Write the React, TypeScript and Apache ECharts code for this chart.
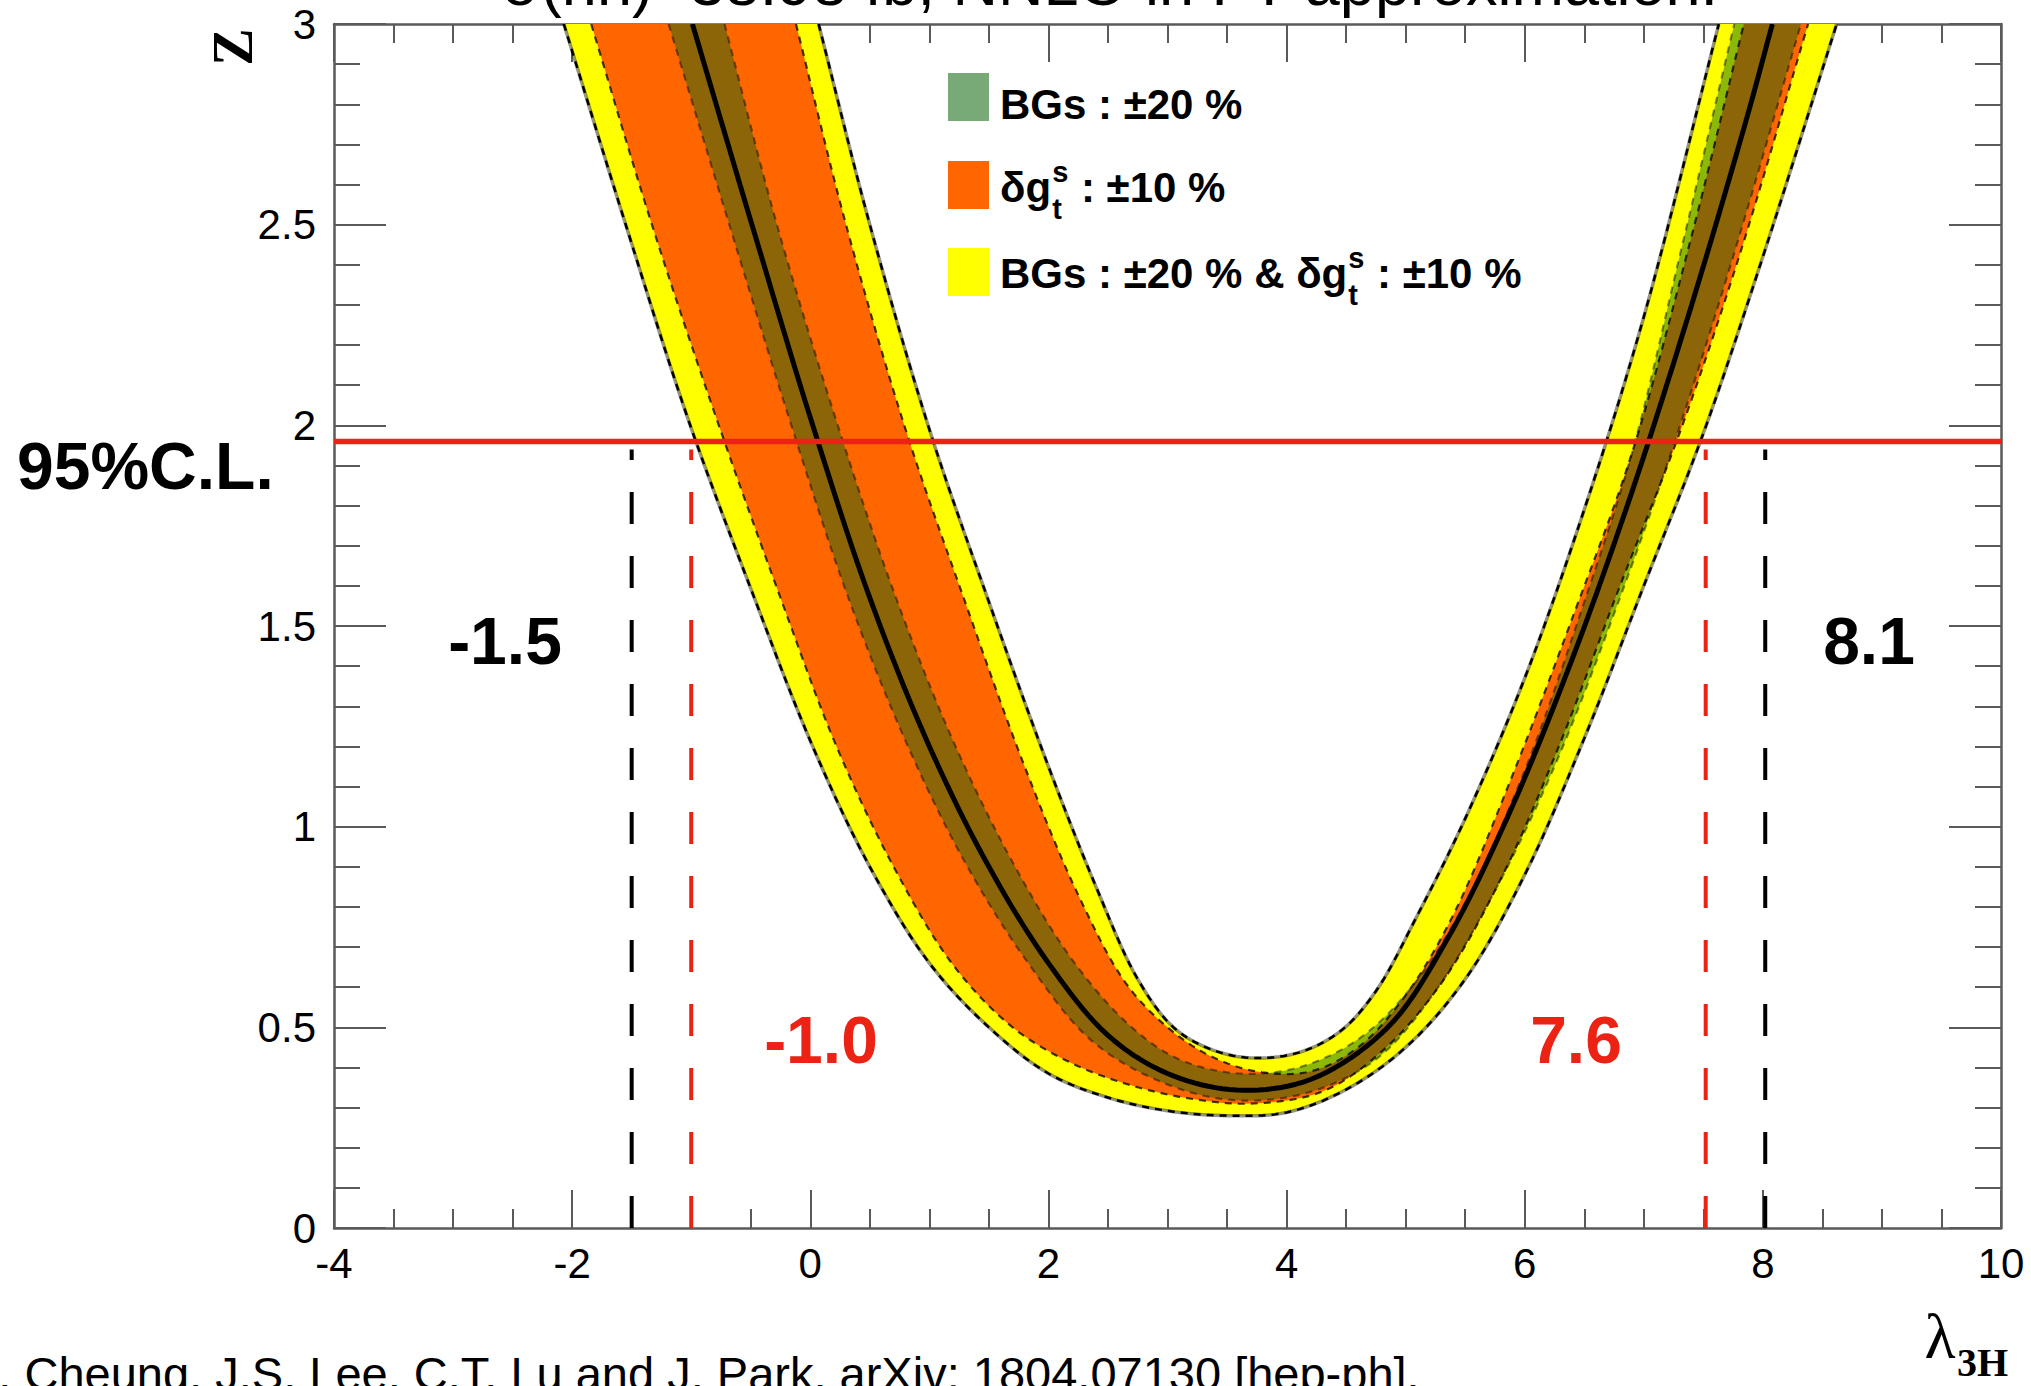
import React, { useEffect, useRef } from "react";
import * as echarts from "echarts";

type Pt = [number, number];

const SANS = "'Liberation Sans', Arial, Helvetica, sans-serif";
const SERIF = "'Liberation Serif', 'Times New Roman', Times, serif";

// ---- axes ----
const xMin = -4;
const xMax = 10;
const xStep = 2;
const yMin = 0;
const yMax = 3;
const yStep = 0.5;

// ---- texts ----
const titleText = "σ(hh)=38.98 fb, NNLO in FT approximation.";
const citationText = "K. Cheung, J.S. Lee, C.T. Lu and J. Park, arXiv: 1804.07130 [hep-ph].";
const yAxisTitle = "Z";
const xAxisTitleMain = "λ";
const xAxisTitleSub = "3H";

// ---- central significance curve (lambda_3H, Z) ----
const centralCurve: Pt[] = [
  [-0.99, 3.0], [-0.49, 2.5], [0.01, 2.01], [0.5, 1.57], [1.0, 1.2], [1.5, 0.9], [2.0, 0.66],
  [2.5, 0.48], [3.0, 0.385], [3.58, 0.344], [4.2, 0.37], [4.85, 0.5], [5.35, 0.72],
  [5.85, 1.02], [6.35, 1.38], [6.85, 1.79], [7.35, 2.25], [7.85, 2.75], [8.08, 3.0],
];

// ---- BGs ±20% & δg ±10% (yellow) ----
const combinedLower: Pt[] = [
  [-2.07, 3.0], [-1.55, 2.5], [-1.02, 2.01], [-0.47, 1.57], [0.02, 1.2], [0.5, 0.9], [1.0, 0.66],
  [1.5, 0.5], [2.0, 0.385], [2.5, 0.325], [3.0, 0.292], [3.5, 0.28], [4.0, 0.288],
  [4.5, 0.345], [5.0, 0.45], [5.5, 0.62], [6.0, 0.88], [6.5, 1.22], [7.0, 1.6], [7.5, 1.98],
  [8.0, 2.42], [8.62, 3.0],
];
const combinedUpper: Pt[] = [
  [0.07, 3.0], [0.5, 2.5], [1.0, 1.99], [1.5, 1.56], [2.0, 1.15], [2.4, 0.85], [2.75, 0.62],
  [3.05, 0.5], [3.35, 0.447], [3.69, 0.424], [4.1, 0.437], [4.45, 0.49], [4.75, 0.59],
  [5.1, 0.78], [5.5, 1.02], [6.0, 1.37], [6.5, 1.79], [7.0, 2.27], [7.63, 3.0],
];

// ---- δg ±10% (orange) ----
const yukawaLower: Pt[] = [
  [-1.84, 3.0], [-1.33, 2.5], [-0.78, 2.01], [-0.25, 1.57], [0.22, 1.2], [0.7, 0.9], [1.2, 0.655],
  [1.7, 0.5], [2.2, 0.41], [2.7, 0.355], [3.2, 0.322], [3.7, 0.31], [4.3, 0.34], [4.8, 0.44],
  [5.3, 0.61], [5.8, 0.87], [6.3, 1.21], [6.8, 1.6], [7.3, 1.98], [7.8, 2.42], [8.38, 3.0],
];
const yukawaUpper: Pt[] = [
  [-0.12, 3.0], [0.3, 2.5], [0.8, 1.99], [1.3, 1.56], [1.8, 1.15], [2.25, 0.83], [2.65, 0.61],
  [3.0, 0.5], [3.35, 0.43], [3.75, 0.39], [4.2, 0.39], [4.6, 0.45], [5.0, 0.58], [5.4, 0.78],
  [5.9, 1.13], [6.4, 1.52], [6.9, 1.93], [7.4, 2.47], [7.84, 3.0],
];

// ---- BGs ±20% (green) ----
const bgLower: Pt[] = [
  [-1.19, 3.0], [-0.68, 2.5], [-0.17, 2.01], [0.32, 1.57], [0.82, 1.2], [1.32, 0.9], [1.83, 0.66],
  [2.35, 0.47], [2.9, 0.37], [3.5, 0.32], [4.15, 0.335], [4.75, 0.42], [5.25, 0.59],
  [5.75, 0.84], [6.25, 1.15], [6.75, 1.53], [7.25, 1.95], [7.75, 2.42], [8.32, 3.0],
];
const bgUpper: Pt[] = [
  [-0.72, 3.0], [-0.28, 2.5], [0.22, 2.01], [0.72, 1.57], [1.22, 1.2], [1.72, 0.9], [2.22, 0.66],
  [2.7, 0.5], [3.1, 0.42], [3.6, 0.385], [4.1, 0.4], [4.6, 0.47], [5.05, 0.6], [5.5, 0.81],
  [6.0, 1.14], [6.5, 1.56], [6.9, 1.93], [7.3, 2.42], [7.76, 3.0],
];

// ---- 95% C.L. ----
const clLevel = 1.96;
const clLabel = "95%C.L.";
const dashedTop = 1.94;
const combinedLimits = [-1.0, 7.52];
const combinedLimitLabels = ["-1.0", "7.6"];
const otherLimits = [-1.5, 8.02];
const otherLimitLabels = ["-1.5", "8.1"];

// ---- legend ----
const legendLabels = ["BGs : ±20 %", "δg : ±10 %", "BGs : ±20 % & δg : ±10 %"];

const YELLOW = "#FFFF00";
const ORANGE = "#FF6600";
const GREEN_BAND = "rgba(0,100,18,0.45)";
const GREEN_LEGEND = "#78AA78";
const RED = "#EC2214";

let measureCtx: CanvasRenderingContext2D | null = null;
function measure(text: string, font: string): number {
  if (!measureCtx) measureCtx = document.createElement("canvas").getContext("2d");
  if (!measureCtx) return text.length * 20;
  measureCtx.font = font;
  return measureCtx.measureText(text).width;
}

// centripetal Catmull-Rom drawing of a pixel polyline (rendering only)
function smoothPixels(pts: number[][], steps = 10): number[][] {
  const n = pts.length;
  if (n < 3) return pts;
  const P = (i: number): number[] => {
    if (i < 0) return [2 * pts[0][0] - pts[1][0], 2 * pts[0][1] - pts[1][1]];
    if (i > n - 1) return [2 * pts[n - 1][0] - pts[n - 2][0], 2 * pts[n - 1][1] - pts[n - 2][1]];
    return pts[i];
  };
  const dist = (a: number[], b: number[]) => Math.max(Math.sqrt(Math.hypot(b[0] - a[0], b[1] - a[1])), 1e-4);
  const out: number[][] = [];
  for (let i = 0; i < n - 1; i++) {
    const p0 = P(i - 1), p1 = P(i), p2 = P(i + 1), p3 = P(i + 2);
    const t0 = 0;
    const t1 = t0 + dist(p0, p1);
    const t2 = t1 + dist(p1, p2);
    const t3 = t2 + dist(p2, p3);
    for (let s = 0; s < steps; s++) {
      const t = t1 + ((t2 - t1) * s) / steps;
      const mix = (a: number[], b: number[], ta: number, tb: number) => {
        const wa = (tb - t) / (tb - ta);
        const wb = (t - ta) / (tb - ta);
        return [a[0] * wa + b[0] * wb, a[1] * wa + b[1] * wb];
      };
      const A1 = mix(p0, p1, t0, t1);
      const A2 = mix(p1, p2, t1, t2);
      const A3 = mix(p2, p3, t2, t3);
      const B1 = mix(A1, A2, t0, t2);
      const B2 = mix(A2, A3, t1, t3);
      out.push(mix(B1, B2, t1, t2));
    }
  }
  out.push(pts[n - 1]);
  return out;
}

function txt(text: string, x: number, y: number, font: string, fill: string, align = "left", extra: any = {}) {
  return {
    type: "text",
    x,
    y,
    silent: true,
    z: 100,
    ...extra,
    style: {
      text,
      font,
      fill,
      align,
      verticalAlign: "middle",
      textAlign: align,
      textVerticalAlign: "middle",
    },
  };
}

function bandSeries(name: string, upper: Pt[], lower: Pt[], fill: string, z: number) {
  return {
    type: "custom",
    name,
    coordinateSystem: "cartesian2d",
    xAxisIndex: 0,
    yAxisIndex: 0,
    z,
    clip: true,
    silent: true,
    data: [upper[0]],
    renderItem: (_params: any, api: any) => {
      const up = smoothPixels(upper.map((p) => api.coord(p)));
      const lo = smoothPixels(lower.map((p) => api.coord(p)));
      const pts = up.concat(lo.slice().reverse());
      return { type: "polygon", shape: { points: pts }, style: { fill, stroke: "none" } };
    },
  };
}

function curveSeries(name: string, data: Pt[], stroke: string, lineWidth: number, lineDash: number[] | null, z: number) {
  return {
    type: "custom",
    name,
    coordinateSystem: "cartesian2d",
    xAxisIndex: 0,
    yAxisIndex: 0,
    z,
    clip: true,
    silent: true,
    data: [data[0]],
    renderItem: (_params: any, api: any) => {
      const pts = smoothPixels(data.map((p) => api.coord(p)));
      return {
        type: "polyline",
        shape: { points: pts },
        style: { fill: "none", stroke, lineWidth, lineDash: lineDash || undefined, lineCap: "butt", lineJoin: "round" },
      };
    },
  };
}

function lineSeries(data: Pt[], color: string, width: number, type: any, z: number) {
  return {
    type: "line",
    data,
    xAxisIndex: 0,
    yAxisIndex: 0,
    symbol: "none",
    showSymbol: false,
    silent: true,
    clip: true,
    z,
    lineStyle: { color, width, type, cap: "butt" },
  };
}

function buildLegend() {
  const boldFont = `bold 42px ${SANS}`;
  const scriptFont = `bold 29px ${SANS}`;
  const x0 = 1000;
  const els: any[] = [];
  const rows = [
    { y: 97, ty: 104, color: GREEN_LEGEND },
    { y: 185, ty: 187, color: ORANGE },
    { y: 272, ty: 273, color: YELLOW },
  ];
  rows.forEach((r) => {
    els.push({ type: "rect", silent: true, z: 100, shape: { x: 948, y: r.y - 24, width: 41, height: 48 }, style: { fill: r.color } });
  });
  els.push(txt(legendLabels[0], x0, rows[0].ty, boldFont, "#000"));
  [1, 2].forEach((i) => {
    const label = legendLabels[i];
    const cut = label.indexOf("δg") + 2;
    const before = label.slice(0, cut);
    const after = label.slice(cut);
    const r = rows[i];
    const w = measure(before, boldFont);
    const xs = x0 + w + 1;
    els.push(txt(before, x0, r.ty, boldFont, "#000"));
    els.push(txt("s", xs, r.ty - 15, scriptFont, "#000"));
    els.push(txt("t", xs, r.ty + 22, scriptFont, "#000"));
    const ws = Math.max(measure("s", scriptFont), measure("t", scriptFont));
    els.push(txt(after, xs + ws + 1, r.ty, boldFont, "#000"));
  });
  return els;
}

export default function App() {
  const ref = useRef<HTMLDivElement>(null);

  useEffect(() => {
    if (!ref.current) return;
    const chart = echarts.init(ref.current, undefined, { renderer: "svg" });

    const axisColor = "#5a5a5a";
    const baseX = {
      type: "value",
      min: xMin,
      max: xMax,
      interval: xStep,
      splitLine: { show: false },
      axisLine: { show: true, onZero: false, lineStyle: { color: axisColor, width: 2.5 } },
      axisTick: { show: true, inside: true, length: 38, lineStyle: { color: axisColor, width: 2 } },
      minorTick: { show: true, splitNumber: 4, length: 19, lineStyle: { color: axisColor, width: 2 } },
    };
    const baseY = {
      type: "value",
      min: yMin,
      max: yMax,
      interval: yStep,
      splitLine: { show: false },
      axisLine: { show: true, onZero: false, lineStyle: { color: axisColor, width: 2.5 } },
      axisTick: { show: true, inside: true, length: 52, lineStyle: { color: axisColor, width: 2 } },
      minorTick: { show: true, splitNumber: 5, length: 26, lineStyle: { color: axisColor, width: 2 } },
    };

    const limitSeries: any[] = [];
    combinedLimits.forEach((v) => {
      limitSeries.push(lineSeries([[v, 0], [v, dashedTop]], RED, 4, [32, 32], 9));
    });
    otherLimits.forEach((v) => {
      limitSeries.push(lineSeries([[v, 0], [v, dashedTop]], "#000", 4, [32, 32], 9));
    });

    const boldBig = `bold 66px ${SANS}`;
    const dash = [7, 6];

    const option: any = {
      animation: false,
      backgroundColor: "#ffffff",
      grid: { left: 334, right: 30, top: 24, bottom: 158, outerBoundsMode: "none", containLabel: false },
      xAxis: [
        {
          ...baseX,
          position: "bottom",
          axisLabel: { show: true, fontSize: 42, color: "#000", fontFamily: SANS, margin: 14, showMinLabel: true, showMaxLabel: true },
        },
        { ...baseX, position: "top", axisLabel: { show: false } },
      ],
      yAxis: [
        {
          ...baseY,
          position: "left",
          axisLabel: { show: true, fontSize: 42, color: "#000", fontFamily: SANS, margin: 18, showMinLabel: true, showMaxLabel: true },
        },
        { ...baseY, position: "right", axisLabel: { show: false } },
      ],
      series: [
        bandSeries("BGs : ±20 % & δg : ±10 %", combinedUpper, combinedLower, YELLOW, 2),
        bandSeries("δg : ±10 %", yukawaUpper, yukawaLower, ORANGE, 3),
        bandSeries("BGs : ±20 %", bgUpper, bgLower, GREEN_BAND, 4),
        curveSeries("combined lower shade", combinedLower, "rgba(60,60,60,0.55)", 3.5, null, 5),
        curveSeries("combined upper shade", combinedUpper, "rgba(60,60,60,0.55)", 3.5, null, 5),
        curveSeries("combined lower edge", combinedLower, "#000", 2.5, dash, 6),
        curveSeries("combined upper edge", combinedUpper, "#000", 2.5, dash, 6),
        curveSeries("yukawa lower edge", yukawaLower, "rgba(0,0,0,0.75)", 2.2, dash, 6),
        curveSeries("yukawa upper edge", yukawaUpper, "rgba(0,0,0,0.75)", 2.2, dash, 6),
        curveSeries("bg lower edge", bgLower, "rgba(0,0,0,0.45)", 2.2, dash, 6),
        curveSeries("bg upper edge", bgUpper, "rgba(0,0,0,0.45)", 2.2, dash, 6),
        curveSeries("central", centralCurve, "#000", 5, null, 7),
        lineSeries([[xMin, clLevel], [xMax, clLevel]], RED, 5.5, "solid", 10),
        ...limitSeries,
      ],
      graphic: [
        txt(titleText, 1110, -17, `63px ${SANS}`, "#000", "center"),
        txt(clLabel, 17, 466, boldBig, "#000", "left"),
        txt(otherLimitLabels[0], 505, 641, boldBig, "#000", "center"),
        txt(otherLimitLabels[1], 1869, 641, boldBig, "#000", "center"),
        txt(combinedLimitLabels[0], 821, 1040, boldBig, RED, "center"),
        txt(combinedLimitLabels[1], 1576, 1040, boldBig, RED, "center"),
        txt(yAxisTitle, 233, 47, `bold 56px ${SERIF}`, "#000", "center", { rotation: Math.PI / 2 }),
        txt(xAxisTitleMain, 1940, 1336, `64px ${SERIF}`, "#000", "center"),
        txt(xAxisTitleSub, 1957, 1362, `bold 40px ${SERIF}`, "#000", "left"),
        txt(citationText, -33, 1373, `47px ${SANS}`, "#000", "left"),
        ...buildLegend(),
      ],
    };

    chart.setOption(option);
    return () => {
      chart.dispose();
    };
  }, []);

  return (
    <div
      ref={ref}
      style={{ position: "fixed", left: 0, top: 0, width: 2031, height: 1386, background: "#fff" }}
    />
  );
}
